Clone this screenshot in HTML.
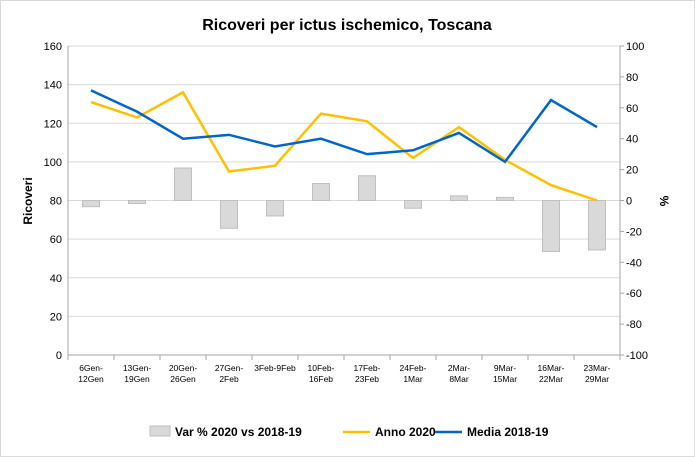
<!DOCTYPE html>
<html><head><meta charset="utf-8"><style>
body{margin:0;background:#fff;font-family:"Liberation Sans",sans-serif}
svg text{font-family:"Liberation Sans",sans-serif}
</style></head><body>
<svg width="695" height="457" xmlns="http://www.w3.org/2000/svg">
<rect x="0.5" y="0.5" width="694" height="456" fill="#fff" stroke="#d9d9d9"/>
<text x="347" y="30" text-anchor="middle" font-size="16" font-weight="bold">Ricoveri per ictus ischemico, Toscana</text>
<g id="grid"></g><g id="bars"></g><g id="lines"></g><g id="axes"></g>
<text transform="translate(32,201) rotate(-90)" text-anchor="middle" font-size="12" font-weight="bold">Ricoveri</text>
<text transform="translate(660,201) rotate(90)" text-anchor="middle" font-size="12" font-weight="bold">%</text>
<g font-size="12" font-weight="bold">
<rect x="150" y="426" width="20" height="10" fill="#d9d9d9" stroke="#bfbfbf"/>
<text x="175" y="436">Var % 2020 vs 2018-19</text>
<line x1="343" y1="432" x2="370" y2="432" stroke="#ffc000" stroke-width="2.5"/>
<text x="375" y="436">Anno 2020</text>
<line x1="435" y1="432" x2="462" y2="432" stroke="#0066cc" stroke-width="2.5"/>
<text x="467" y="436">Media 2018-19</text>
</g>
</svg>
<script>
const categories=[["6Gen-","12Gen"],["13Gen-","19Gen"],["20Gen-","26Gen"],["27Gen-","2Feb"],["3Feb-9Feb",""],["10Feb-","16Feb"],["17Feb-","23Feb"],["24Feb-","1Mar"],["2Mar-","8Mar"],["9Mar-","15Mar"],["16Mar-","22Mar"],["23Mar-","29Mar"]];
const anno2020=[131,123,136,95,98,125,121,102,118,101,88,80];
const media1819=[137,126,112,114,108,112,104,106,115,100,132,118];
const varPct=[-4,-2,21,-18,-10,11,16,-5,3,2,-33,-32];
const leftTicks=[0,20,40,60,80,100,120,140,160];
const rightTicks=[-100,-80,-60,-40,-20,0,20,40,60,80,100];
const NS="http://www.w3.org/2000/svg";
const X0=68,X1=620,Y0=355,Y1=46;
const bw=(X1-X0)/categories.length;
const xc=i=>X0+bw*(i+0.5);
const yL=v=>Y0-(v/160)*(Y0-Y1);
const yR=v=>Y0-((v+100)/200)*(Y0-Y1);
function mk(p,t,a){const e=document.createElementNS(NS,t);for(const k in a)e.setAttribute(k,a[k]);document.getElementById(p).appendChild(e);return e;}
leftTicks.forEach(v=>{
const g=mk("grid","line",{x1:X0,x2:X1,y1:yL(v),y2:yL(v),stroke:v===0?"#a6a6a6":"#d9d9d9"});


const t=mk("axes","text",{x:X0-6,y:yL(v)+4,"text-anchor":"end","font-size":"11"});t.textContent=v;


});
rightTicks.forEach(v=>{
const t=mk("axes","text",{x:X1+6,y:yR(v)+4,"font-size":"11"});t.textContent=v;


mk("axes","line",{x1:X1,x2:X1+4,y1:yR(v),y2:yR(v),stroke:"#a6a6a6"});
});
mk("axes","line",{x1:X0,x2:X0,y1:Y1,y2:Y0,stroke:"#a6a6a6"});
mk("axes","line",{x1:X1,x2:X1,y1:Y1,y2:Y0,stroke:"#a6a6a6"});
for(let i=0;i<=categories.length;i++)mk("axes","line",{x1:X0+bw*i,x2:X0+bw*i,y1:Y0,y2:Y0+5,stroke:"#a6a6a6"});
categories.forEach((c,i)=>{c.forEach((s,j)=>{
const t=mk("axes","text",{x:xc(i),y:371+j*11,"text-anchor":"middle","font-size":"8.5"});t.textContent=s;


});});
varPct.forEach((v,i)=>{
const y0=yR(0),y=yR(v);
const r=mk("bars","rect",{x:xc(i)-8.5,y:Math.min(y0,y),width:17,height:Math.abs(y-y0),fill:"#d9d9d9",stroke:"#bfbfbf"});


});
function line(arr,col,name){
const l=mk("lines","polyline",{points:arr.map((v,i)=>xc(i)+","+yL(v)).join(" "),fill:"none",stroke:col,"stroke-width":"2.5"});


}
line(anno2020,"#ffc000","line-anno-2020");
line(media1819,"#0066cc","line-media-2018-19");
</script>
</body></html>
